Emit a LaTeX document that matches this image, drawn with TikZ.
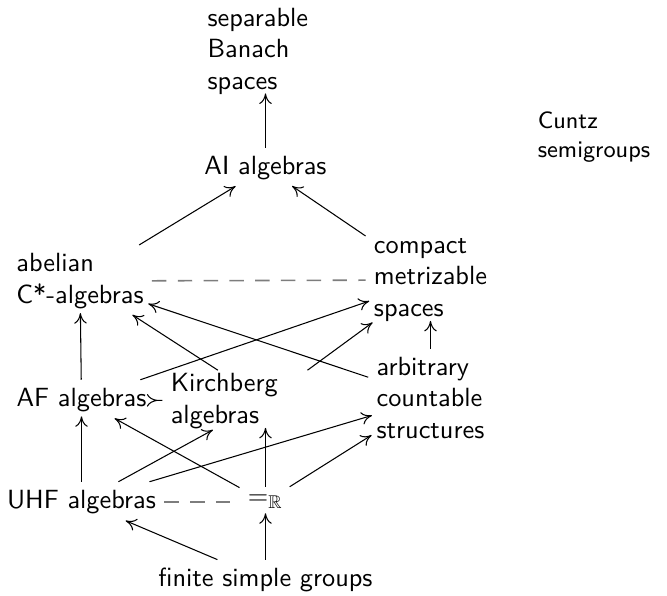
\documentclass[tikz,border=0pt]{standalone}
\usepackage{tikz}
\usetikzlibrary{arrows.meta}
\usepackage{amsmath, amssymb}
\definecolor{eqgray}{RGB}{125, 125, 125}

\begin{document}
\begin{tikzpicture}[x=0.38pt, y=-0.38pt,
  class/.style={align=left, font=\sffamily, inner sep=3pt},
  arr/.style={-{To[length=4pt, width=4.8pt]}, thin, shorten >=-1.5pt},
  equiv/.style={eqgray, semithick, dash pattern=on 5.5pt off 4.3pt},
]
  \useasboundingbox (0,0) rectangle (667,596);

  % Top
  \node[class, text width=44pt, inner ysep=1pt] (sb) at (265.5,51) {separable\\Banach\\spaces};
  \node[class] (ai) at (265.5,168) {AI algebras};
  \node[class, font=\sffamily\small] (cu) at (594,137) {Cuntz\\semigroups};

  % Middle
  \node[class] (abel) at (80,281) {abelian\\C*-algebras};
  \node[class, inner ysep=1pt] (cms) at (430.5,280) {compact\\metrizable\\spaces};
  \node[class] (af) at (81.5,400) {AF algebras};
  \node[class, text width=72pt, inner ysep=1pt] (kb) at (265.5,401) {Kirchberg\\algebras};
  \node[class] (acs) at (430.5,398) {arbitrary\\countable\\structures};

  % Bottom
  \node[class] (uhf) at (81.5,502) {UHF algebras};
  \node[class] (eqr) at (265.5,502) {$=_{\mathbb{R}}$};
  \node[class] (fsg) at (265.5,580) {finite simple groups};

  % Reductions
  \draw[arr] (ai) -- (sb);
  \draw[arr] (abel) -- (ai);
  \draw[arr] (cms) -- (ai);
  \draw[arr] (af) -- (abel);
  \draw[arr] (kb) -- (abel);
  \draw[arr] (acs) -- (abel);
  \draw[arr] (af) -- (cms);
  \draw[arr] (kb) -- (cms);
  \draw[arr] (acs) -- (cms);
  \draw[{To[reversed, length=4pt, width=4.8pt]}-, thin, shorten <=-3pt] (af) -- (kb);
  \draw[arr] (uhf) -- (af);
  \draw[arr] (eqr) -- (af);
  \draw[arr] (uhf) -- (kb);
  \draw[arr] (uhf) -- (acs);
  \draw[arr] (eqr) -- (kb);
  \draw[arr] (eqr) -- (acs);
  \draw[arr] (fsg) -- (uhf);
  \draw[arr] (fsg) -- (eqr);

  % Bireducible
  \draw[equiv] (abel) -- (cms);
  \draw[equiv] (uhf) -- (eqr);
\end{tikzpicture}
\end{document}
